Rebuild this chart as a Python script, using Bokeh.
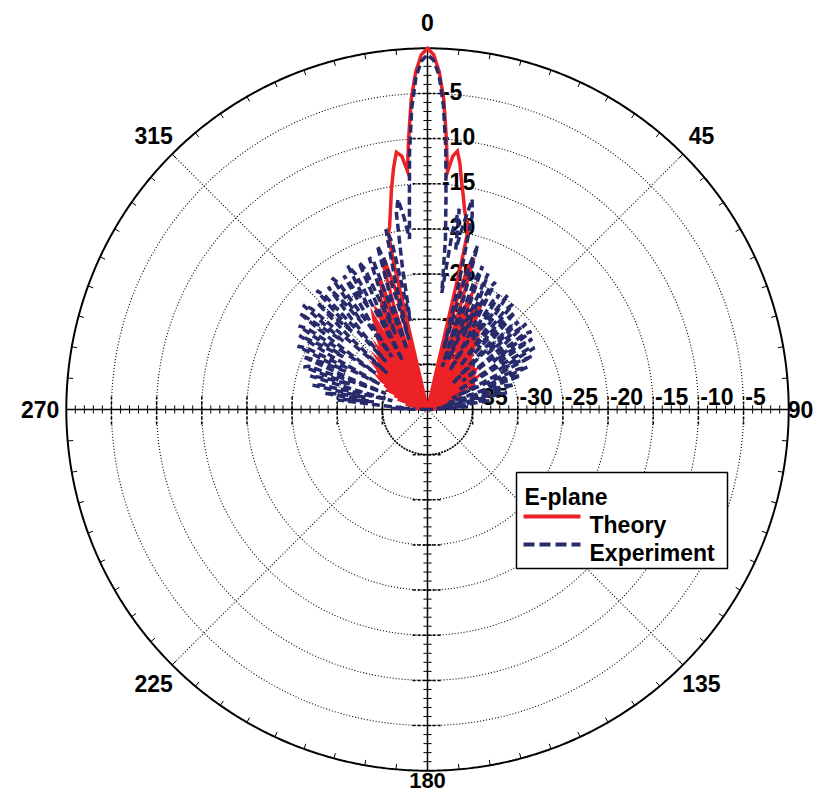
import numpy as np
from bokeh.plotting import figure
from bokeh.models import Range1d
from bokeh.embed import file_html
from bokeh.resources import INLINE
from bokeh.core.properties import value

# ---------------- data (angle in degrees clockwise from 0, level in dB) ----------------
theory_deg = [-90, -87, -83, -79, -76, -73, -71, -69, -67, -65, -64, -62, -61, -60, -59, -58, -57,
              -56, -55, -54, -53, -52, -51, -50, -49, -48, -47, -46, -45, -44, -43, -42, -41,
              -40, -39, -38, -37, -36, -35, -34, -33, -32, -31, -30, -29, -28, -27, -26, -25,
              -24, -23, -22, -21, -20, -19, -18, -17, -16, -15, -14, -13, -12.5, -11.7, -10.5,
              -9.3, -8, -6.9, -5.8, -4.8, -4, -3, -2, -1,
              0, 1, 2, 3, 4, 4.8, 5.7, 6.6, 7.5, 8.5, 9.5, 10.5, 11.5, 12.7, 13, 14, 15, 16, 17,
              18, 19, 20, 21, 22, 23, 24, 25, 26, 27, 28, 29, 30, 31, 32, 33, 34, 35, 36, 37,
              38, 39, 40, 41, 42, 43, 44, 45, 46, 47, 48, 49, 50, 51, 52, 53, 54, 55, 56, 57,
              58, 59, 60, 61, 62, 64, 65, 66, 67, 69, 71, 73, 75, 78, 81, 85, 90]
theory_db = [-45, -45, -38.5, -45, -37.5, -45, -36.5, -45, -36, -45, -35, -45, -35, -34.5, -45, -34, -33.7,
             -45, -33.7, -33.5, -45, -33.5, -33, -45, -33, -32.5, -45, -33, -32.5, -45, -32.5, -32, -45,
             -32, -31.5, -45, -31.5, -31, -45, -30.5, -30, -45, -28.5, -28, -45, -31, -27.6, -28, -45,
             -27.5, -27, -45, -26, -24.6, -45, -28, -23.4, -23, -26, -45, -23, -20, -19.3, -17.5,
             -15.3, -13, -11.3, -11.8, -13.5, -10, -5.6, -2.6, -0.7,
             0, -0.7, -2.6, -5.6, -10, -13.6, -11.8, -11.2, -12.5, -14.5, -16, -17.5, -18.5, -19.2, -23, -45, -27, -23.5, -23,
             -30, -45, -28, -26.4, -29, -45, -29, -27.5, -33, -27, -28.5, -45, -30, -29, -34, -29, -31, -45, -31, -31.5,
             -45, -32, -33, -45, -32.5, -33.5, -45, -33, -34, -45, -33, -34, -45, -33.5, -34, -45, -33.8, -34, -45, -33.6,
             -34, -45, -35, -34, -45, -35.5, -45, -36, -45, -36.5, -45, -37, -45, -38, -45, -39, -45]

exp_deg = list(range(-90, 91))
exp_db = [
    # -90 .. -1
    -40, -38, -36, -38, -37, -35, -30, -31, -34, -28.5, -30, -33, -27, -28, -36, -32, -26.5, -28, -31,
    -25.5, -26, -35, -30, -25, -27, -30, -24, -25, -34, -28, -23.6, -26, -29, -23, -24, -33, -27, -22.3,
    -25.5, -28, -22, -23, -34, -28, -23, -26, -28, -22, -23, -33, -27, -22.5, -25, -28, -22, -23, -33, -28,
    -22.5, -25, -27, -21.8, -23, -34, -28, -22, -23, -31, -27, -22, -22.5, -33, -26, -21, -23, -32, -25, -19.5,
    -21, -30, -24, -18, -16.5, -18.5, -21, -17, -11.5, -6.6, -3.2, -1.4,
    # 0 .. 90
    -0.7, -1.3, -3.0, -6.3, -11, -16.5, -21, -27, -20, -17.5, -22, -19, -16.2, -18, -26, -33, -24, -21, -27,
    -35, -25, -23, -28, -34, -23.5, -26, -31, -25, -24, -30, -35, -26, -25, -31, -28, -24.5, -29, -34, -26,
    -25, -32, -27, -25.5, -30, -36, -27, -26, -31, -28, -25.5, -30, -35, -26.5, -25.6, -31, -28, -26, -32,
    -36, -27, -26.3, -31, -29, -27, -33, -37, -29, -28, -33, -30, -29, -34, -37.5, -31, -30, -35, -38, -32,
    -31, -36, -38.5, -34, -33, -37, -39, -36, -35.5, -38, -39, -39.5, -40]

ring_levels = [-35, -30, -25, -20, -15, -10, -5]
ring_labels = ["-35", "-30", "-25", "-20", "-15", "-10", "-5"]
angle_ticks = [0, 45, 90, 135, 180, 225, 270, 315]
angle_labels = ["0", "45", "90", "135", "180", "225", "270", "315"]

assert len(theory_deg) == len(theory_db), (len(theory_deg), len(theory_db))
assert len(exp_deg) == len(exp_db), (len(exp_deg), len(exp_db))

# ---------------- layout ----------------
FLOOR = -40.0          # centre of the plot, in dB
PX = 9.03              # pixels per dB
CX, CY = 428, 410      # centre on the picture
ORIGIN = 1             # where the figure's corner lands on the picture
W, H = 815, 794
RMAX = 0 - FLOOR

def to_xy(deg, db):
    d = np.radians(np.asarray(deg, dtype=float))
    r = np.clip(np.asarray(db, dtype=float), FLOOR, 0) - FLOOR
    return r * np.sin(d), r * np.cos(d)

def px_x(px):
    return (px - CX) / PX

def px_y(py):
    return (CY - py) / PX

p = figure(width=W, height=H,
           x_range=Range1d((ORIGIN - CX) / PX, (ORIGIN + W - CX) / PX),
           y_range=Range1d((CY - ORIGIN - H) / PX, (CY - ORIGIN) / PX),
           output_backend="svg", toolbar_location=None, min_border=0)
p.axis.visible = False
p.grid.visible = False
p.outline_line_color = None
p.background_fill_color = "white"

FONT = value("Liberation Sans")
FS = "23px"
th = np.linspace(0, 2 * np.pi, 721)

# rings
for lv in ring_levels:
    r = lv - FLOOR
    if lv == -35:
        p.line(r * np.sin(th), r * np.cos(th), line_color="black", line_width=1.8, line_dash="2 1")
    else:
        p.line(r * np.sin(th), r * np.cos(th), line_color="#000000", line_width=1.1, line_dash="1 2")
p.line(RMAX * np.sin(th), RMAX * np.cos(th), line_color="black", line_width=2)

# diagonal spokes
for a in [45, 135, 225, 315]:
    x, y = to_xy([a, a], [FLOOR, 0])
    p.line(x, y, line_color="#000000", line_width=1.1, line_dash="1 2")

# main axes
p.segment(x0=[0, -RMAX], y0=[-RMAX, 0], x1=[0, RMAX], y1=[RMAX, 0], line_color="black", line_width=1.5)

# axis ticks every 1 dB
steps = np.arange(1, int(RMAX))
t = 0.45
xs0, ys0, xs1, ys1 = [], [], [], []
for s in steps:
    for sign in (1, -1):
        xs0 += [-t, s * sign]; ys0 += [s * sign, -t]
        xs1 += [t, s * sign]; ys1 += [s * sign, t]
p.segment(x0=xs0, y0=ys0, x1=xs1, y1=ys1, line_color="black", line_width=1)
# major ticks at rings
T = 1.65
mx0, my0, mx1, my1 = [], [], [], []
for lv in ring_levels:
    s = lv - FLOOR
    for sign in (1, -1):
        mx0 += [-T, s * sign]; my0 += [s * sign, -T]
        mx1 += [T, s * sign]; my1 += [s * sign, T]
p.segment(x0=mx0, y0=my0, x1=mx1, y1=my1, line_color="black", line_width=1.5, line_dash="3 2")

# angular ticks on the outer circle every 5 degrees
ang = np.radians(np.arange(0, 360, 5))
tl = 0.6
p.segment(x0=RMAX * np.sin(ang), y0=RMAX * np.cos(ang),
          x1=(RMAX - tl) * np.sin(ang), y1=(RMAX - tl) * np.cos(ang),
          line_color="black", line_width=1)

# angle labels (the ones at 90 and 180 are pulled in a little so they stay inside the canvas)
LR = np.array([42.9, 42.9, 41.3, 42.9, 41.1, 42.9, 42.9, 42.9])
la = np.radians(angle_ticks)
idx_main = [0, 1, 2, 3, 5, 6, 7]
p.text(x=(LR * np.sin(la))[idx_main], y=(LR * np.cos(la))[idx_main],
       text=[angle_labels[i] for i in idx_main], text_align="center",
       text_baseline="middle", text_font=FONT, text_font_style="bold", text_font_size=FS,
       text_color="black")
p.text(x=[(LR * np.sin(la))[4]], y=[(LR * np.cos(la))[4]], text=[angle_labels[4]],
       text_align="center", text_baseline="middle", text_font=FONT, text_font_style="bold",
       text_font_size="22px", text_color="black")

# radial labels (top axis and right axis)
rr = [lv - FLOOR for lv in ring_levels]
p.text(x=[1.6] * len(rr), y=[r + 0.22 for r in rr], text=ring_labels, text_align="left",
       text_baseline="alphabetic", text_font=FONT, text_font_style="bold",
       text_font_size=FS, text_color="black")
p.text(x=[r + 0.2 for r in rr], y=[1.44] * len(rr), text=ring_labels, text_align="left",
       text_baseline="alphabetic", text_font=FONT, text_font_style="bold",
       text_font_size=FS, text_color="black")

# data
RED = "#ec2227"
NAVY = "#272a6b"
tx, ty = to_xy(theory_deg, theory_db)
p.line(tx, ty, line_color=RED, line_width=3.5, line_join="miter")
ex, ey = to_xy(exp_deg, exp_db)
p.line(ex, ey, line_color=NAVY, line_width=3.5, line_dash="8 4")

# legend (drawn by hand)
p.quad(left=[px_x(517)], right=[px_x(728)], top=[px_y(473)], bottom=[px_y(569)],
       fill_color="white", line_color="black", line_width=1.5)
p.text(x=[px_x(525)], y=[px_y(497)], text=["E-plane"], text_align="left", text_baseline="alphabetic",
       text_font=FONT, text_font_style="bold", text_font_size=FS, text_color="black")
p.line([px_x(524), px_x(581)], [px_y(517), px_y(517)], line_color=RED, line_width=4)
p.text(x=[px_x(590)], y=[px_y(525)], text=["Theory"], text_align="left", text_baseline="alphabetic",
       text_font=FONT, text_font_style="bold", text_font_size=FS, text_color="black")
p.line([px_x(524), px_x(581)], [px_y(545), px_y(545)], line_color=NAVY, line_width=4, line_dash="11 5")
p.text(x=[px_x(590)], y=[px_y(553)], text=["Experiment"], text_align="left", text_baseline="alphabetic",
       text_font=FONT, text_font_style="bold", text_font_size=FS, text_color="black")

open("out.html", "w").write(file_html(p, INLINE))
